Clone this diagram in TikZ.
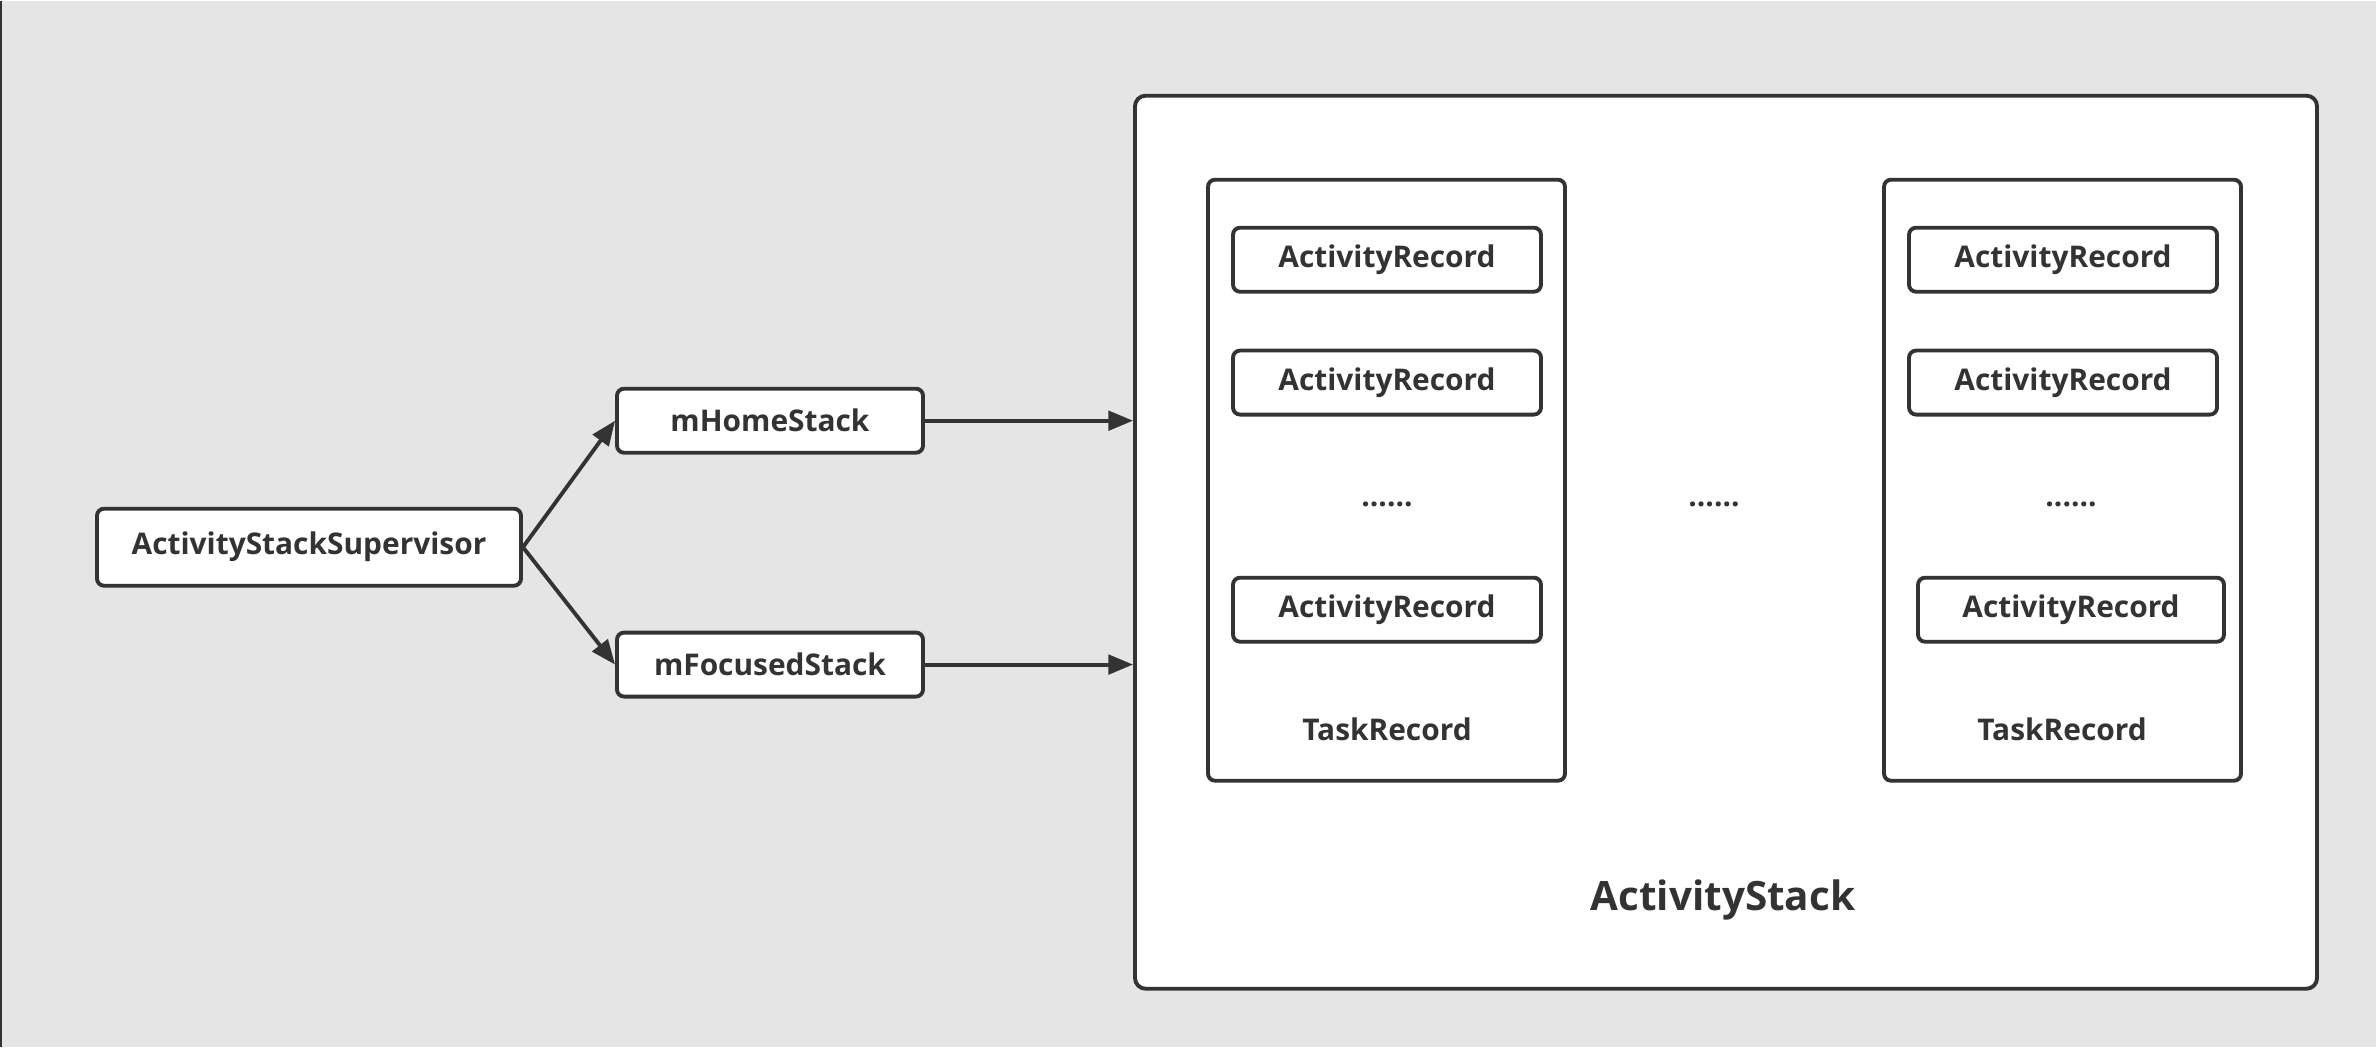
\documentclass[tikz,border=0pt]{standalone}
\usepackage{fontspec}
\setmainfont{Open Sans}
\usetikzlibrary{arrows.meta,positioning}
\definecolor{bggray}{RGB}{229,229,229}
\definecolor{linegray}{RGB}{51,51,51}
\tikzstyle{arrow} = [line width=1.1pt,-{Triangle[length=7pt,width=5.5pt]},color=linegray]
\tikzstyle{record} = [rectangle, rounded corners=2pt, draw=linegray, fill=white, line width=1.1pt, text=linegray, font=\bfseries\fontsize{8.5}{10}\selectfont, inner sep=0pt]
\tikzstyle{plain} = [text=linegray, font=\bfseries\fontsize{8.5}{10}\selectfont]

\begin{document}
\begin{tikzpicture}
% background
\fill[bggray] (0,0) rectangle (23.76,-10.46);
\draw[linegray] (0.01,0) -- (0.01,-10.46);
\useasboundingbox (0,0) rectangle (23.76,-10.46);

% supervisor and its two stacks
\node (supervisor) [record, minimum width=4.24cm, minimum height=0.77cm] at (3.09,-5.465) {ActivityStackSupervisor};
\node (home) [record, minimum width=3.06cm, minimum height=0.64cm] at (7.70,-4.20) {mHomeStack};
\node (focused) [record, below=1.76cm of home, minimum width=3.06cm, minimum height=0.64cm] {mFocusedStack};

% ActivityStack
\node (stack) [record, rounded corners=3pt, minimum width=11.82cm, minimum height=8.93cm] at (17.26,-5.415) {};
\node (stacklabel) [plain, font=\bfseries\fontsize{11.5}{14}\selectfont] at (17.23,-8.99) {ActivityStack};

% first TaskRecord
\node (taskA) [record, minimum width=3.57cm, minimum height=6.01cm] at (13.865,-4.795) {};
\node (arA1) [record, minimum width=3.08cm, minimum height=0.64cm] at (13.87,-2.59) {ActivityRecord};
\node (arA2) [record, below=0.55cm of arA1, minimum width=3.08cm, minimum height=0.64cm] {ActivityRecord};
\node (dotsA) [plain] at (13.87,-5.04) {......};
\node (arA3) [record, minimum width=3.08cm, minimum height=0.64cm] at (13.87,-6.09) {ActivityRecord};
\node (taskAlabel) [plain] at (13.87,-7.29) {TaskRecord};

\node (dotsMid) [plain] at (17.14,-5.04) {......};

% last TaskRecord
\node (taskB) [record, minimum width=3.57cm, minimum height=6.01cm] at (20.625,-4.795) {};
\node (arB1) [record, minimum width=3.08cm, minimum height=0.64cm] at (20.63,-2.59) {ActivityRecord};
\node (arB2) [record, below=0.55cm of arB1, minimum width=3.08cm, minimum height=0.64cm] {ActivityRecord};
\node (dotsB) [plain] at (20.71,-5.04) {......};
\node (arB3) [record, minimum width=3.06cm, minimum height=0.64cm] at (20.71,-6.09) {ActivityRecord};
\node (taskBlabel) [plain] at (20.62,-7.29) {TaskRecord};

% arrows
\draw[arrow] (supervisor.east) -- (home.west);
\draw[arrow] (supervisor.east) -- (focused.west);
\draw[arrow] (home.east) -- (home.east -| stack.west);
\draw[arrow] (focused.east) -- (focused.east -| stack.west);
\end{tikzpicture}
\end{document}
